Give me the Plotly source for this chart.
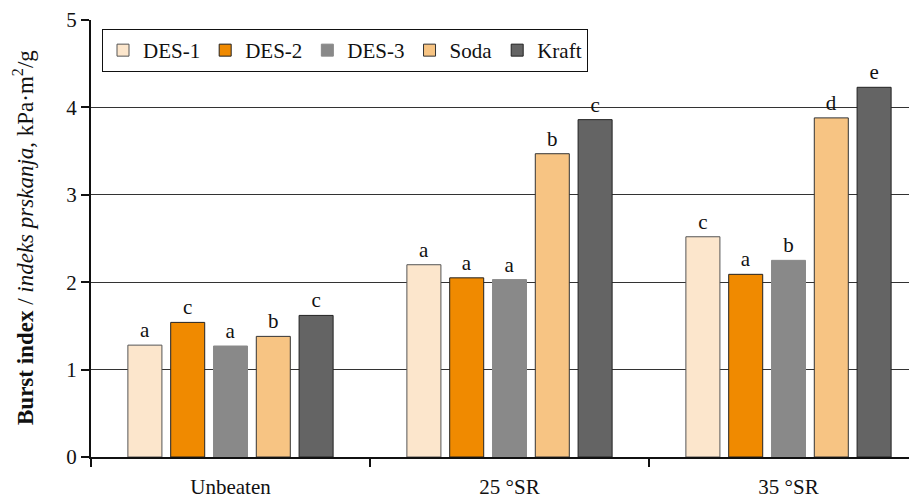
import plotly.graph_objects as go

categories = ["Unbeaten", "25 °SR", "35 °SR"]
series_names = ["DES-1", "DES-2", "DES-3", "Soda", "Kraft"]
des1 = [1.28, 2.20, 2.52]
des2 = [1.54, 2.05, 2.09]
des3 = [1.27, 2.03, 2.25]
soda = [1.38, 3.47, 3.88]
kraft = [1.62, 3.86, 4.23]
letters_des1 = ["a", "a", "c"]
letters_des2 = ["c", "a", "a"]
letters_des3 = ["a", "a", "b"]
letters_soda = ["b", "b", "d"]
letters_kraft = ["c", "c", "e"]
y_ticks = [0, 1, 2, 3, 4, 5]

values = [des1, des2, des3, soda, kraft]
letters = [letters_des1, letters_des2, letters_des3, letters_soda, letters_kraft]
fills = ["#FCE6CC", "#F08A00", "#898989", "#F7C483", "#646464"]
borders = ["#555555", "#222222", "#8a8a8a", "#333333", "#222222"]

FONT = "Liberation Serif"

fig = go.Figure()
for name, vals, let, fc, bc in zip(series_names, values, letters, fills, borders):
    fig.add_trace(go.Bar(
        x=categories, y=vals, name=name,
        marker=dict(color=fc, line=dict(color=bc, width=1)),
        text=let, textposition="outside", cliponaxis=False,
        textfont=dict(family=FONT, size=21, color="#111111"),
    ))

# page offset from default body margin
OFF = 8
W, H = 917 - OFF, 500 - OFF
L, T = 91 - OFF, 20 - OFF
B = H - (457 - OFF)
plot_w = W - L
plot_h = H - T - B
cat_px = 279.0
x_hi = -0.5 + plot_w / cat_px

fig.update_layout(
    width=W, height=H,
    margin=dict(l=L, r=0, t=T, b=B, autoexpand=False),
    paper_bgcolor="white", plot_bgcolor="white",
    barmode="group", bargap=0.233, bargroupgap=0.205,
    font=dict(family=FONT, size=21, color="#111111"),
    showlegend=True,
    legend=dict(
        orientation="h", x=(102 - 91) / plot_w, y=1 - (29 - 20) / plot_h,
        xanchor="left", yanchor="top",
        bordercolor="#111111", borderwidth=1, bgcolor="white",
        font=dict(family=FONT, size=21, color="#111111"),
        itemwidth=30, traceorder="normal",
    ),
    xaxis=dict(
        range=[-0.5, x_hi], showline=True, linecolor="#111111", linewidth=1.5,
        ticks="outside", ticklen=8, tickcolor="#111111", tickwidth=1.5,
        tickson="boundaries", showgrid=False, zeroline=False, automargin=False,
        tickfont=dict(family=FONT, size=21, color="#111111"),
        ticklabelstandoff=10,
    ),
    yaxis=dict(
        range=[0, 5], tickvals=y_ticks, showline=True, linecolor="#111111", linewidth=2,
        ticks="outside", ticklen=8, tickcolor="#111111", tickwidth=1.5,
        showgrid=True, gridcolor="#333333", gridwidth=1, zeroline=False, automargin=False,
        tickfont=dict(family=FONT, size=21, color="#111111"),
    ),
    annotations=[dict(
        text="<b>Burst index</b> / <i>indeks prskanja</i>, kPa·m<sup>2</sup>/g",
        xref="paper", yref="paper", x=(24 - 91) / plot_w, y=1 - (238 - 20) / plot_h,
        xanchor="center", yanchor="middle", textangle=-90, showarrow=False,
        font=dict(family=FONT, size=23, color="#111111"),
    )],
)

fig.write_html("out.html")
